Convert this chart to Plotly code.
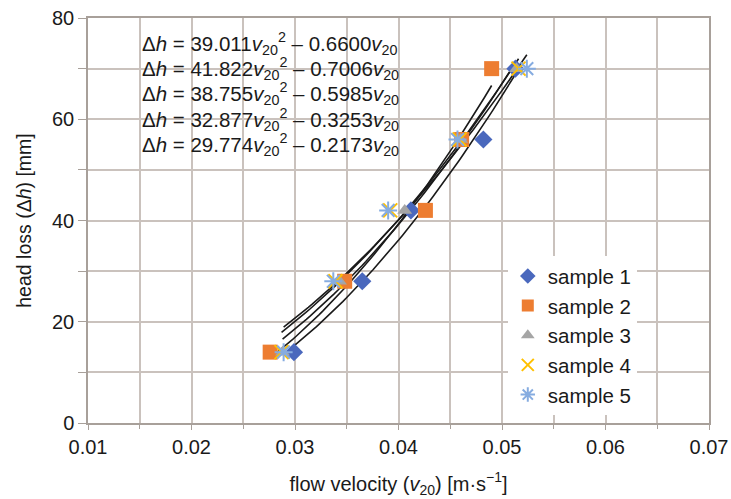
import numpy as np
import plotly.graph_objects as go

head_loss = [14, 28, 42, 56, 70]
sample_names = ["sample 1", "sample 2", "sample 3", "sample 4", "sample 5"]
v_s1 = [0.0299, 0.0365, 0.0412, 0.0482, 0.0513]
v_s2 = [0.0276, 0.0348, 0.0426, 0.0461, 0.0490]
v_s3 = [0.0288, 0.0343, 0.0406, 0.0460, 0.0514]
v_s4 = [0.0287, 0.0339, 0.0392, 0.0459, 0.0516]
v_s5 = [0.0289, 0.0337, 0.0390, 0.0457, 0.0524]
velocities = [v_s1, v_s2, v_s3, v_s4, v_s5]

eq_a = ["39.011", "41.822", "38.755", "32.877", "29.774"]
eq_b = ["0.6600", "0.7006", "0.5985", "0.3253", "0.2173"]

colors = ["#4a68bd", "#ed7d31", "#a5a5a5", "#ffc000", "#86ace0"]
symbols = ["diamond", "square", "triangle-up", "x-thin-open", "asterisk-open"]
sizes = [14, 15, 13, 14, 15]

FONT = "Liberation Sans, Arial, sans-serif"
fig = go.Figure()

# trendlines (quadratic fit through origin), drawn over each series' range
for v in velocities:
    x = np.array(v)
    y = np.array(head_loss, dtype=float)
    A = np.vstack([x ** 2, x]).T
    coef, *_ = np.linalg.lstsq(A, y, rcond=None)
    xs = np.linspace(x.min(), x.max(), 60)
    ys = coef[0] * xs ** 2 + coef[1] * xs
    fig.add_trace(go.Scatter(x=xs, y=ys, mode="lines",
                             line=dict(color="#1a1a1a", width=1.6),
                             showlegend=False, hoverinfo="skip"))

for i, (name, v, c, s, sz) in enumerate(zip(sample_names, velocities, colors, symbols, sizes)):
    open_sym = s.endswith("open")
    fig.add_trace(go.Scatter(
        x=v, y=head_loss, mode="markers", name=name,
        marker=dict(symbol=s, size=sz, color=c,
                    line=dict(color=c, width=2 if open_sym else 0)),
    ))

# equations text
for k, (a, b) in enumerate(zip(eq_a, eq_b)):
    t = f"Δ<i>h</i> = {a}<i>v</i><sub>20</sub><sup>2</sup> – {b}<i>v</i><sub>20</sub>"
    fig.add_annotation(x=0.01502, y=75 - k * 5, xref="x", yref="y", text=t,
                       showarrow=False, xanchor="left", yanchor="middle",
                       font=dict(family=FONT, size=20.5, color="#1a1a1a"))

grid_c = "#cac2bd"
axis_c = "#a8a09a"
fig.update_layout(
    width=731, height=499,
    margin=dict(l=88, r=22, t=18, b=76),
    paper_bgcolor="white", plot_bgcolor="white",
    font=dict(family=FONT, size=20, color="#1a1a1a"),
    legend=dict(x=0.676, y=0.412, xanchor="left", yanchor="top",
                bgcolor="white", font=dict(size=20.5), tracegroupgap=0,
                itemsizing="constant"),
    xaxis=dict(range=[0.01, 0.07], tickvals=[0.01, 0.02, 0.03, 0.04, 0.05, 0.06, 0.07],
               ticktext=["0.01", "0.02", "0.03", "0.04", "0.05", "0.06", "0.07"],
               automargin=False, ticklabeloverflow="allow",
               showgrid=True, gridcolor=grid_c, gridwidth=1.5,
               minor=dict(dtick=0.005, showgrid=True, gridcolor=grid_c, ticks="outside",
                          ticklen=4, tickcolor=axis_c),
               showline=True, linecolor=axis_c, linewidth=1.5, mirror=True,
               ticks="outside", ticklen=5, tickcolor=axis_c, zeroline=False,
               tickfont=dict(size=20),
               title=dict(text="flow velocity (<i>v</i><sub>20</sub>) [m·s<sup>−1</sup>]",
                          font=dict(size=20), standoff=20)),
    yaxis=dict(range=[0, 80], tickvals=[0, 20, 40, 60, 80],
               automargin=False, ticklabeloverflow="allow",
               showgrid=True, gridcolor=grid_c, gridwidth=1.5,
               minor=dict(dtick=10, showgrid=True, gridcolor=grid_c, ticks="outside",
                          ticklen=8, tickcolor=axis_c),
               showline=True, linecolor=axis_c, linewidth=1.5, mirror=True,
               ticks="outside", ticklen=8, tickcolor=axis_c, zeroline=False,
               tickfont=dict(size=20),
               title=dict(text="head loss (Δ<i>h</i>) [mm]", font=dict(size=19.5), standoff=15)),
)

fig.write_html("out.html", config={"displayModeBar": False},
               post_script="document.body.style.margin='0';document.body.style.overflow='hidden';")
